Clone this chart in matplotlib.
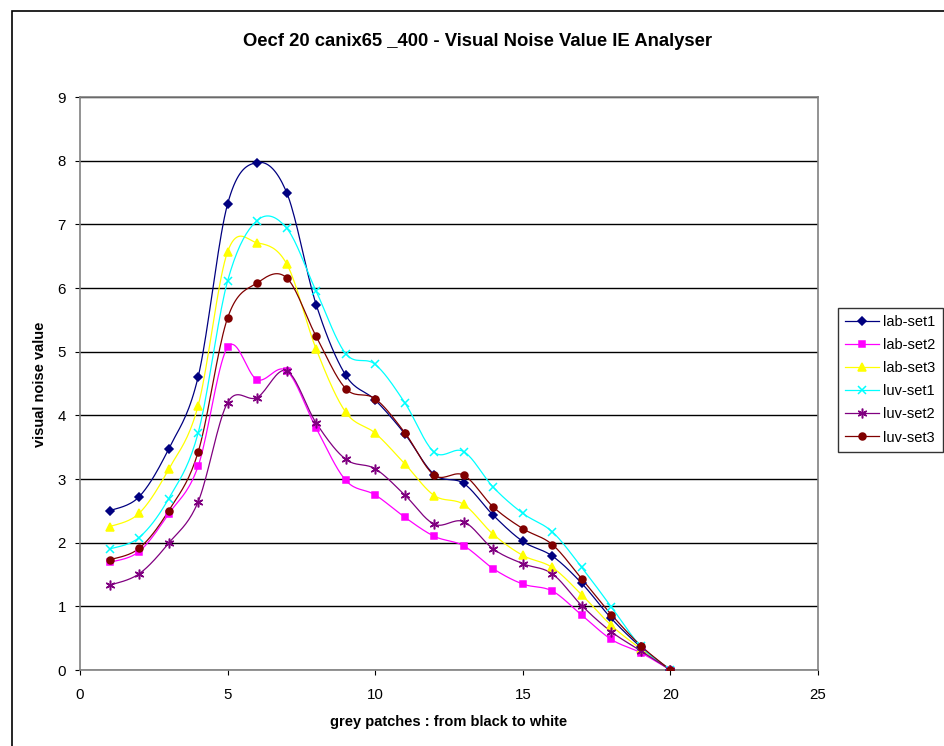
import numpy as np
import matplotlib
matplotlib.use("Agg")
import matplotlib.pyplot as plt
from matplotlib.patches import Rectangle

plt.rcParams['font.family'] = ['Liberation Sans', 'DejaVu Sans']

# grey patches 1..20
patches = list(range(1, 21))

lab_set1 = [2.50, 2.72, 3.47, 4.60, 7.32, 7.97, 7.50, 5.74, 4.63, 4.24,
            3.71, 3.07, 2.93, 2.43, 2.02, 1.79, 1.36, 0.81, 0.36, 0.0]
lab_set2 = [1.69, 1.86, 2.45, 3.20, 5.07, 4.56, 4.70, 3.80, 2.98, 2.75,
            2.40, 2.10, 1.95, 1.59, 1.35, 1.24, 0.86, 0.48, 0.27, 0.0]
lab_set3 = [2.25, 2.46, 3.15, 4.15, 6.57, 6.71, 6.38, 5.04, 4.05, 3.72,
            3.24, 2.74, 2.60, 2.13, 1.80, 1.61, 1.18, 0.70, 0.33, 0.0]
luv_set1 = [1.90, 2.08, 2.69, 3.72, 6.11, 7.06, 6.94, 5.95, 4.97, 4.80,
            4.20, 3.42, 3.43, 2.87, 2.46, 2.17, 1.61, 0.99, 0.37, 0.0]
luv_set2 = [1.33, 1.51, 1.99, 2.64, 4.20, 4.28, 4.70, 3.88, 3.31, 3.16,
            2.75, 2.29, 2.33, 1.90, 1.67, 1.51, 1.01, 0.60, 0.30, 0.0]
luv_set3 = [1.73, 1.91, 2.50, 3.42, 5.53, 6.08, 6.16, 5.24, 4.42, 4.26,
            3.73, 3.06, 3.06, 2.56, 2.22, 1.97, 1.43, 0.87, 0.38, 0.0]

names = ['lab-set1', 'lab-set2', 'lab-set3', 'luv-set1', 'luv-set2', 'luv-set3']
series = [lab_set1, lab_set2, lab_set3, luv_set1, luv_set2, luv_set3]
colors = ['#000080', '#FF00FF', '#FFFF00', '#00FFFF', '#800080', '#800000']
markers = ['D', 's', '^', 'x', (6, 2, 0), 'o']
msizes = [4.5, 5, 6, 6, 7, 5]


def smooth(x, y, n=20):
    # excel-like smoothed line (catmull-rom through the points)
    x = np.asarray(x, float)
    y = np.asarray(y, float)
    px = np.concatenate([[x[0]], x, [x[-1]]])
    py = np.concatenate([[y[0]], y, [y[-1]]])
    xs, ys = [], []
    t = np.linspace(0, 1, n)
    for i in range(1, len(px) - 2):
        p0x, p1x, p2x, p3x = px[i-1:i+3]
        p0y, p1y, p2y, p3y = py[i-1:i+3]
        c1x, c1y = p1x + (p2x - p0x) / 6, p1y + (p2y - p0y) / 6
        c2x, c2y = p2x - (p3x - p1x) / 6, p2y - (p3y - p1y) / 6
        bx = (1-t)**3*p1x + 3*(1-t)**2*t*c1x + 3*(1-t)*t**2*c2x + t**3*p2x
        by = (1-t)**3*p1y + 3*(1-t)**2*t*c1y + 3*(1-t)*t**2*c2y + t**3*p2y
        xs.extend(bx)
        ys.extend(by)
    return xs, ys


fig = plt.figure(figsize=(9.45, 7.46), dpi=100)
fig.patches.append(Rectangle((12/945, -0.1), 1.0, 1 - 11/746 + 0.1,
                             transform=fig.transFigure, fill=False,
                             edgecolor='black', linewidth=1.2))

ax = fig.add_axes([80/945, 1 - 670/746, 738/945, 573/746])

for name, vals, c, m, ms in zip(names, series, colors, markers, msizes):
    sx, sy = smooth(patches, vals)
    ax.plot(sx, sy, color=c, linewidth=0.9, zorder=3)
    ax.plot(patches, vals, linestyle='none', marker=m, color=c,
            markersize=ms, markeredgewidth=1.1, zorder=4)
    ax.plot([], [], color=c, marker=m, markersize=ms, linewidth=0.9,
            markeredgewidth=1.1, label=name)

ax.set_xlim(0, 25)
ax.set_ylim(0, 9)
ax.set_xticks(range(0, 26, 5))
ax.set_yticks(range(0, 10))
ax.yaxis.grid(True, color='black', linewidth=1)
ax.set_axisbelow(True)
for s in ax.spines.values():
    s.set_color('#808080')
    s.set_linewidth(1.2)
ax.tick_params(direction='out', length=3.5, labelsize=10.8, colors='black')
ax.tick_params(axis='x', pad=9.5)
ax.tick_params(axis='y', pad=6.5)

fig.text(449/945, 1 - 722/746, 'grey patches : from black to white',
         ha='center', va='center', fontsize=10.5, fontweight='bold')
fig.text(40/945, 1 - 384/746, 'visual noise value', rotation=90,
         ha='center', va='center', fontsize=10.5, fontweight='bold')
fig.text(478/945, 1 - 41/746, 'Oecf 20 canix65 _400 - Visual Noise Value IE Analyser',
         ha='center', va='center', fontsize=13.3, fontweight='bold')

leg = ax.legend(loc='upper left', bbox_to_anchor=(838/945, 1 - 308/746),
                bbox_transform=fig.transFigure, frameon=True, fancybox=False,
                fontsize=10.5, handlelength=2.3, borderpad=0.5, labelspacing=0.62,
                handletextpad=0.3, borderaxespad=0)
leg.get_frame().set_edgecolor('black')
leg.get_frame().set_linewidth(1)

fig.savefig('out.png', dpi=100)
